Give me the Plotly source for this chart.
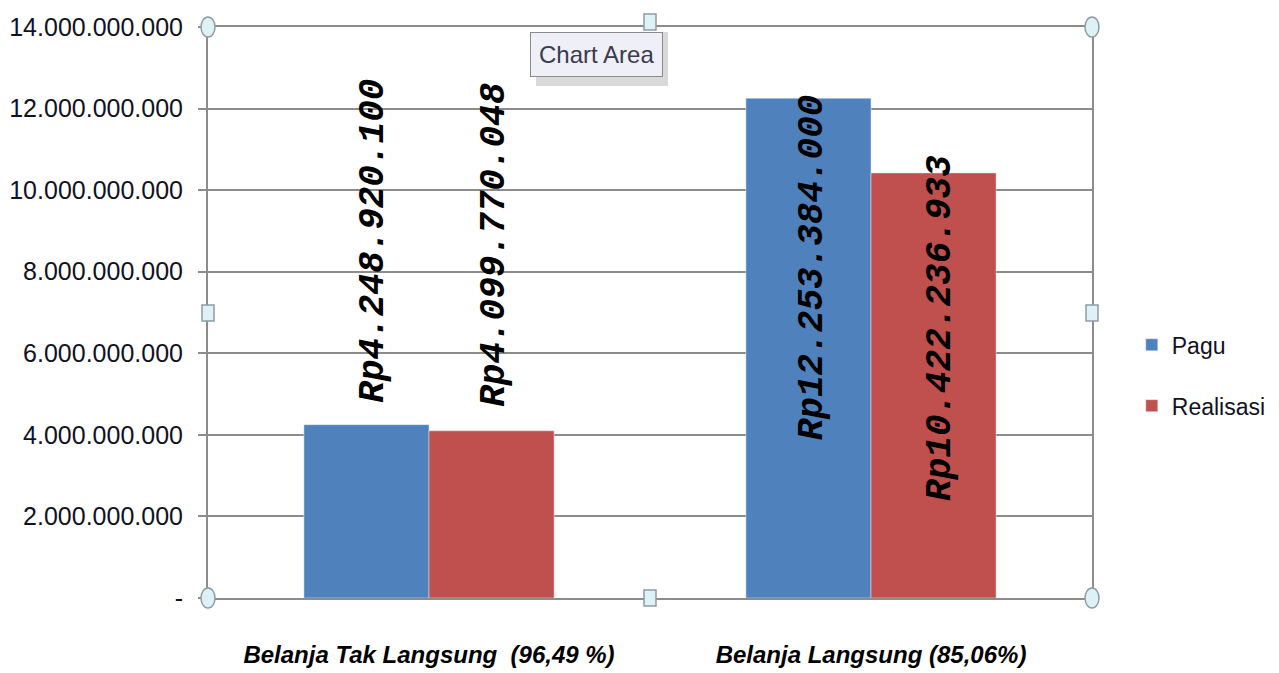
import plotly.graph_objects as go

categories = ["Belanja Tak Langsung  (96,49 %)", "Belanja Langsung (85,06%)"]
pagu = [4248920100, 12253384000]
realisasi = [4099770048, 10422236933]
pagu_labels = ["Rp4.248.920.100", "Rp12.253.384.000"]
realisasi_labels = ["Rp4.099.770.048", "Rp10.422.236.933"]
tick_vals = [0, 2e9, 4e9, 6e9, 8e9, 10e9, 12e9, 14e9]
tick_text = ["-", "2.000.000.000", "4.000.000.000", "6.000.000.000", "8.000.000.000",
             "10.000.000.000", "12.000.000.000", "14.000.000.000"]

BLUE = "#4F81BD"
RED = "#C0504D"
GRID = "#8C8C8C"
SANS = "Liberation Sans, Arial, sans-serif"
MONO = "Liberation Mono, Courier New, monospace"

fig = go.Figure()
fig.add_trace(go.Bar(x=categories, y=pagu, name="Pagu", marker_color=BLUE,
                     legendgroup="a", hoverinfo="skip"))
fig.add_trace(go.Bar(x=categories, y=realisasi, name="Realisasi", marker_color=RED,
                     legendgroup="b", hoverinfo="skip"))

annotations = []
label_specs = [
    (0, pagu[0], pagu_labels[0], -55, "bottom", 20),
    (0, realisasi[0], realisasi_labels[0], 66, "bottom", 22),
    (1, pagu[1], pagu_labels[1], -59, "top", 6),
    (1, realisasi[1], realisasi_labels[1], 70, "top", 20),
]
for ci, val, txt, xs, ya, ys in label_specs:
    annotations.append(dict(
        x=categories[ci], y=val, xref="x", yref="y", text="<b><i>" + txt + "</i></b>",
        textangle=-90, showarrow=False, xshift=xs, yshift=ys, yanchor=ya, xanchor="center",
        font=dict(family=MONO, size=36, color="#000000")))

def px2paper(px, py):
    return (px - 208) / 884, (598 - py) / 571

# "Chart Area" tooltip
tx, ty = px2paper(596, 55)
annotations.append(dict(
    x=tx, y=ty, xref="paper", yref="paper",
    text="Chart Area", showarrow=False, xanchor="center", yanchor="middle",
    font=dict(family=SANS, size=24, color="#3A3A50"),
    bgcolor="#EFEFF7", bordercolor="#8A8A8A", borderwidth=1, borderpad=8))

shapes = []
sx0, sy0 = px2paper(536, 86)
sx1, sy1 = px2paper(668, 32)
shapes.append(dict(type="rect", xref="paper", yref="paper",
                   x0=sx0, x1=sx1, y0=sy0, y1=sy1,
                   fillcolor="rgba(130,130,130,0.30)", line=dict(width=0), layer="above"))

for (hx, hy) in [(208, 27), (1092, 27), (208, 598), (1092, 598)]:
    cx, cy = px2paper(hx, hy)
    shapes.append(dict(type="circle", xref="paper", yref="paper",
                       x0=cx - 7 / 884, x1=cx + 7 / 884, y0=cy - 10 / 571, y1=cy + 10 / 571,
                       fillcolor="#DDF1F6", line=dict(color="#8E9CA4", width=1.5)))
for (hx, hy) in [(650, 22), (208, 313), (1092, 313), (650, 598)]:
    cx, cy = px2paper(hx, hy)
    shapes.append(dict(type="rect", xref="paper", yref="paper",
                       x0=cx - 6 / 884, x1=cx + 6 / 884, y0=cy - 8 / 571, y1=cy + 8 / 571,
                       fillcolor="#DDF1F6", line=dict(color="#8E9CA4", width=1.5)))

fig.update_layout(
    width=1279, height=673,
    margin=dict(l=200, r=195, t=19, b=83, autoexpand=False),
    paper_bgcolor="white", plot_bgcolor="white",
    barmode="group", bargap=0.434, bargroupgap=0,
    showlegend=True,
    legend=dict(x=1.045, y=0.39, xanchor="left", yanchor="middle",
                font=dict(family=SANS, size=23, color="#111122"),
                tracegroupgap=28, bgcolor="rgba(0,0,0,0)"),
    xaxis=dict(showgrid=False, showline=True, linecolor=GRID, linewidth=2, mirror=True,
               ticks="", automargin=False,
               tickfont=dict(family=SANS, size=24, color="#000000"),
               ticklabelstandoff=34),
    yaxis=dict(range=[0, 14e9], tickvals=tick_vals, ticktext=tick_text, automargin=False,
               showgrid=True, gridcolor=GRID, gridwidth=2, zeroline=False,
               showline=True, linecolor=GRID, linewidth=2, mirror=True,
               ticks="outside", ticklen=8, tickcolor=GRID, tickwidth=2,
               ticklabelstandoff=10,
               tickfont=dict(family=SANS, size=25, color="#111122")),
    annotations=annotations, shapes=shapes,
)
fig.update_xaxes(tickvals=categories,
                 ticktext=["<b><i>" + c + "</i></b>" for c in categories])

fig.write_html("out.html")
